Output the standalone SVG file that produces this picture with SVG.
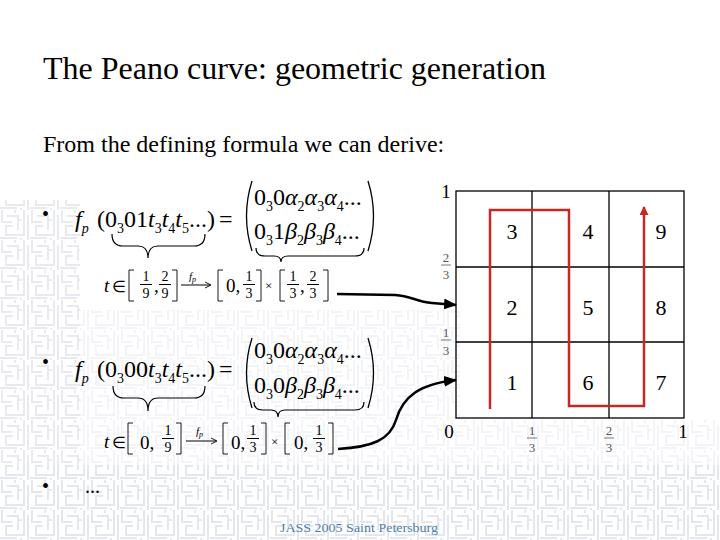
<svg xmlns="http://www.w3.org/2000/svg" width="720" height="540" viewBox="0 0 720 540" font-family="'Liberation Serif', 'Times New Roman', serif">
<style>
.m{fill:#000}
.i{font-style:italic}
.s{font-size:14px}
.fr{font-size:14px;fill:#000;text-anchor:middle}
.ax{font-size:13px;fill:#555;text-anchor:middle}
.num{font-size:22px;fill:#000;text-anchor:middle}
.br{fill:none;stroke:#000;stroke-width:1.2}
.bk{fill:none;stroke:#000;stroke-width:1.3}
.fb{stroke:#000;stroke-width:1}
.gl{stroke:#000;stroke-width:1.3;fill:none}
.con{fill:none;stroke:#000;stroke-width:2.6}
.fa{fill:none;stroke:#000;stroke-width:0.9}
.mz{fill:url(#maze)}
</style>
<defs>
<marker id="ah" markerWidth="13" markerHeight="11" refX="12" refY="5.5" orient="auto" markerUnits="userSpaceOnUse"><path d="M0,0 L13,5.5 L0,11 Z" fill="#000"/></marker>
<marker id="rh" markerWidth="9" markerHeight="9" refX="8" refY="4.5" orient="auto" markerUnits="userSpaceOnUse"><path d="M0,0 L9,4.5 L0,9 Z" fill="#c62828"/></marker>
<pattern id="maze" width="30" height="30" patternUnits="userSpaceOnUse">
<path d="M2,0 V12 H10 M7,6 H18 V20 M15,0 V3 M24,0 V25 H6 V16 H13 M0,28 H17 M21,30 V28 M28,5 V30 M11,11 V13 M18,10 H22" fill="none" stroke="#e2e4ee" stroke-width="2"/>
</pattern>
</defs>
<rect x="0" y="0" width="720" height="540" fill="#fff"/>
<g id="background">
<rect class="mz" x="0" y="200" width="80" height="265" opacity="0.8"/>
<rect class="mz" x="0" y="465" width="720" height="75" opacity="0.9"/>
<rect class="mz" x="80" y="310" width="380" height="155" opacity="0.4"/>
<rect class="mz" x="460" y="420" width="260" height="45" opacity="0.4"/>
</g>

<g id="title">
<text class="m" x="43" y="79" font-size="32">The Peano curve: geometric generation</text>
<text class="m" x="43" y="152" font-size="24">From the defining formula we can derive:</text>
</g>

<g id="bullets">
<text class="m" x="42" y="221" font-size="20">•</text>
<text class="m" x="42" y="369" font-size="20">•</text>
<text class="m" x="42" y="493" font-size="20">•</text>
<text class="m" x="85" y="493" font-size="20">...</text>
</g>

<g id="formula1">
<text class="m" x="75" y="227" font-size="24"><tspan class="i">f</tspan><tspan class="i s" dy="6">p</tspan><tspan x="97" dy="-6">(0</tspan><tspan class="s" dy="6">3</tspan><tspan dy="-6">01</tspan><tspan class="i">t</tspan><tspan class="s" dy="6">3</tspan><tspan class="i" dy="-6">t</tspan><tspan class="s" dy="6">4</tspan><tspan class="i" dy="-6">t</tspan><tspan class="s" dy="6">5</tspan><tspan dy="-6">...)</tspan></text>
<text class="m" x="219" y="227" font-size="24">=</text>
<path class="bk" d="M252,181 Q241,216 252,251"/>
<path class="bk" d="M368,181 Q379,216 368,251"/>
<text class="m" x="254" y="205" font-size="24">0<tspan class="s" dy="6">3</tspan><tspan dy="-6">0</tspan><tspan class="i">α</tspan><tspan class="s" dy="6">2</tspan><tspan class="i" dy="-6">α</tspan><tspan class="s" dy="6">3</tspan><tspan class="i" dy="-6">α</tspan><tspan class="s" dy="6">4</tspan><tspan dy="-6">...</tspan></text>
<text class="m" x="254" y="239" font-size="24">0<tspan class="s" dy="6">3</tspan><tspan dy="-6">1</tspan><tspan class="i">β</tspan><tspan class="s" dy="6">2</tspan><tspan class="i" dy="-6">β</tspan><tspan class="s" dy="6">3</tspan><tspan class="i" dy="-6">β</tspan><tspan class="s" dy="6">4</tspan><tspan dy="-6">...</tspan></text>
<path class="br" d="M112,234 Q112,246 123,246 L138,246 Q148,246 148,258 Q148,246 158,246 L194,246 Q205,246 205,234"/>
<path class="br" d="M256,248 Q256,256 265,256 L274,256 Q281,256 281,262 Q281,256 288,256 L355,256 Q364,256 364,248"/>
</g>

<g id="interval1">
<text class="m i" x="104" y="292" font-size="19">t</text>
<text class="m" x="112" y="292" font-size="16">∈</text>
<path class="fa" d="M134,270 H129 V301 H134"/>
<text class="fr" x="146" y="281">1</text><line class="fb" x1="140" y1="284.5" x2="152" y2="284.5"/><text class="fr" x="146" y="298">9</text>
<text class="m" x="154" y="292" font-size="19">,</text>
<text class="fr" x="165" y="281">2</text><line class="fb" x1="159" y1="284.5" x2="171" y2="284.5"/><text class="fr" x="165" y="298">9</text>
<path class="fa" d="M172,270 H177 V301 H172"/>
<line class="fb" x1="181" y1="285" x2="210" y2="285"/><path class="fa" d="M205,282 L211,285 L205,288"/>
<text class="m i" x="189" y="280" font-size="11">f<tspan font-size="8" dy="2">p</tspan></text>
<path class="fa" d="M223,270 H218 V301 H223"/>
<text class="m" x="226" y="292" font-size="19">0,</text>
<text class="fr" x="249" y="281">1</text><line class="fb" x1="243" y1="284.5" x2="255" y2="284.5"/><text class="fr" x="249" y="298">3</text>
<path class="fa" d="M256,270 H261 V301 H256"/>
<text class="m" x="265" y="290" font-size="13">×</text>
<path class="fa" d="M285,270 H280 V301 H285"/>
<text class="fr" x="293" y="281">1</text><line class="fb" x1="287" y1="284.5" x2="299" y2="284.5"/><text class="fr" x="293" y="298">3</text>
<text class="m" x="300" y="292" font-size="19">,</text>
<text class="fr" x="313" y="281">2</text><line class="fb" x1="307" y1="284.5" x2="319" y2="284.5"/><text class="fr" x="313" y="298">3</text>
<path class="fa" d="M323,270 H328 V301 H323"/>
</g>

<g id="formula2">
<text class="m" x="75" y="377" font-size="24"><tspan class="i">f</tspan><tspan class="i s" dy="6">p</tspan><tspan x="97" dy="-6">(0</tspan><tspan class="s" dy="6">3</tspan><tspan dy="-6">00</tspan><tspan class="i">t</tspan><tspan class="s" dy="6">3</tspan><tspan class="i" dy="-6">t</tspan><tspan class="s" dy="6">4</tspan><tspan class="i" dy="-6">t</tspan><tspan class="s" dy="6">5</tspan><tspan dy="-6">...)</tspan></text>
<text class="m" x="219" y="377" font-size="24">=</text>
<path class="bk" d="M252,338 Q241,373 252,408"/>
<path class="bk" d="M368,338 Q379,373 368,408"/>
<text class="m" x="254" y="358" font-size="24">0<tspan class="s" dy="6">3</tspan><tspan dy="-6">0</tspan><tspan class="i">α</tspan><tspan class="s" dy="6">2</tspan><tspan class="i" dy="-6">α</tspan><tspan class="s" dy="6">3</tspan><tspan class="i" dy="-6">α</tspan><tspan class="s" dy="6">4</tspan><tspan dy="-6">...</tspan></text>
<text class="m" x="254" y="393" font-size="24">0<tspan class="s" dy="6">3</tspan><tspan dy="-6">0</tspan><tspan class="i">β</tspan><tspan class="s" dy="6">2</tspan><tspan class="i" dy="-6">β</tspan><tspan class="s" dy="6">3</tspan><tspan class="i" dy="-6">β</tspan><tspan class="s" dy="6">4</tspan><tspan dy="-6">...</tspan></text>
<path class="br" d="M113,386 Q113,398 124,398 L138,398 Q148,398 148,411 Q148,398 158,398 L194,398 Q205,398 205,386"/>
<path class="br" d="M254,402 Q254,410 263,410 L271,410 Q278,410 278,417 Q278,410 285,410 L355,410 Q364,410 364,402"/>
</g>

<g id="interval2">
<text class="m i" x="104" y="448" font-size="19">t</text>
<text class="m" x="112" y="448" font-size="16">∈</text>
<path class="fa" d="M133,423 H128 V454 H133"/>
<text class="m" x="140" y="449" font-size="19">0,</text>
<text class="fr" x="168" y="435">1</text><line class="fb" x1="162" y1="438.5" x2="174" y2="438.5"/><text class="fr" x="168" y="452">9</text>
<path class="fa" d="M176,423 H181 V454 H176"/>
<line class="fb" x1="186" y1="441" x2="216" y2="441"/><path class="fa" d="M211,438 L217,441 L211,444"/>
<text class="m i" x="196" y="435" font-size="11">f<tspan font-size="8" dy="2">p</tspan></text>
<path class="fa" d="M228,423 H223 V454 H228"/>
<text class="m" x="231" y="449" font-size="19">0,</text>
<text class="fr" x="253" y="435">1</text><line class="fb" x1="247" y1="438.5" x2="259" y2="438.5"/><text class="fr" x="253" y="452">3</text>
<path class="fa" d="M261,423 H266 V454 H261"/>
<text class="m" x="271" y="446" font-size="13">×</text>
<path class="fa" d="M290,423 H285 V454 H290"/>
<text class="m" x="294" y="449" font-size="19">0,</text>
<text class="fr" x="319" y="435">1</text><line class="fb" x1="313" y1="438.5" x2="325" y2="438.5"/><text class="fr" x="319" y="452">3</text>
<path class="fa" d="M328,423 H333 V454 H328"/>
</g>

<g id="grid">
<rect class="gl" x="456" y="191" width="228" height="227" fill="#fff"/>
<line class="gl" x1="532" y1="191" x2="532" y2="418"/>
<line class="gl" x1="609" y1="191" x2="609" y2="418"/>
<line class="gl" x1="456" y1="267" x2="684" y2="267"/>
<line class="gl" x1="456" y1="342" x2="684" y2="342"/>
<text class="m" x="446" y="198" font-size="19" text-anchor="middle">1</text>
<text class="m" x="449" y="438" font-size="19" text-anchor="middle">0</text>
<text class="m" x="683" y="438" font-size="19" text-anchor="middle">1</text>
<text class="ax" x="446" y="262">2</text><line x1="441" y1="265" x2="451" y2="265" stroke="#555" stroke-width="0.8"/><text class="ax" x="446" y="279">3</text>
<text class="ax" x="446" y="337">1</text><line x1="441" y1="340" x2="451" y2="340" stroke="#555" stroke-width="0.8"/><text class="ax" x="446" y="355">3</text>
<text class="ax" x="532" y="435">1</text><line x1="527" y1="438" x2="537" y2="438" stroke="#555" stroke-width="0.8"/><text class="ax" x="532" y="452">3</text>
<text class="ax" x="609" y="435">2</text><line x1="604" y1="438" x2="614" y2="438" stroke="#555" stroke-width="0.8"/><text class="ax" x="609" y="452">3</text>
<text class="num" x="512" y="239">3</text>
<text class="num" x="588" y="239">4</text>
<text class="num" x="661" y="239">9</text>
<text class="num" x="512" y="315">2</text>
<text class="num" x="588" y="315">5</text>
<text class="num" x="661" y="315">8</text>
<text class="num" x="512" y="390">1</text>
<text class="num" x="588" y="390">6</text>
<text class="num" x="661" y="390">7</text>
<path d="M490,409 V210 H569 V406 H644 V207" fill="none" stroke="#c62828" stroke-width="2.5" marker-end="url(#rh)"/>
</g>

<g id="connectors">
<path class="con" d="M337,294 L395,295 C412,296 416,302 432,303 L456,305" marker-end="url(#ah)"/>
<path class="con" d="M338,449 C372,447 390,440 396,420 C403,396 420,384 456,380" marker-end="url(#ah)"/>
</g>

<g id="footer">
<text x="280" y="532" font-size="13" fill="#4f81a6" textLength="158" lengthAdjust="spacingAndGlyphs">JASS 2005 Saint Petersburg</text>
</g>
</svg>
